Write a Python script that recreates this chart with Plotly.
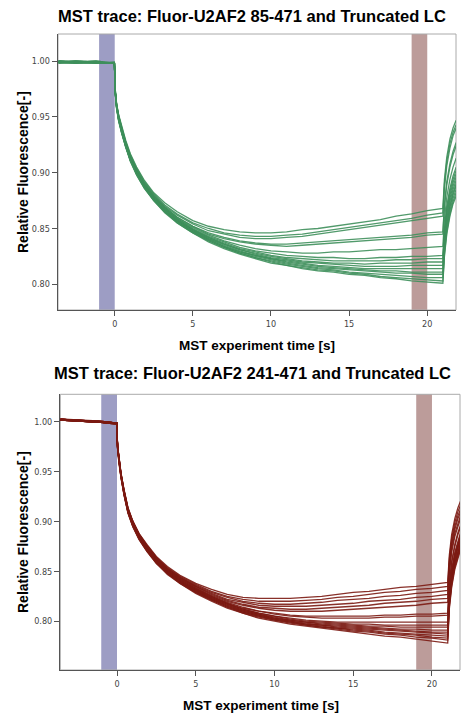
import plotly.graph_objects as go

# ---------------- data ----------------
time_s = [-3.6, -2.5, -1.2, -0.02, 0.04, 0.12, 0.25, 0.45, 0.7, 1.0, 1.4, 1.9, 2.5, 3.2, 4.0,
          5.0, 6.0, 7.0, 8.0, 9.0, 10.0, 11.0, 12.0, 13.0, 14.0, 15.0, 16.0, 17.0, 18.0, 19.0,
          20.0, 21.0, 21.1, 21.25, 21.45, 21.65, 21.85]

# Fluor-U2AF2 85-471 (green), one list per capillary
green_traces = [
    [0.999, 1.000, 0.999, 0.998, 0.974, 0.962, 0.952, 0.941, 0.929, 0.917, 0.905, 0.893, 0.882, 0.873, 0.865, 0.857, 0.852, 0.849, 0.847, 0.846, 0.846, 0.847, 0.849, 0.850, 0.852, 0.854, 0.856, 0.858, 0.861, 0.863, 0.866, 0.868, 0.894, 0.914, 0.930, 0.940, 0.947],
    [1.000, 0.999, 0.999, 0.998, 0.973, 0.961, 0.951, 0.940, 0.928, 0.916, 0.904, 0.892, 0.881, 0.871, 0.863, 0.855, 0.850, 0.846, 0.844, 0.843, 0.843, 0.844, 0.845, 0.847, 0.849, 0.851, 0.853, 0.855, 0.857, 0.859, 0.862, 0.864, 0.890, 0.910, 0.926, 0.936, 0.943],
    [0.999, 0.999, 1.000, 0.998, 0.973, 0.961, 0.951, 0.939, 0.927, 0.915, 0.903, 0.891, 0.880, 0.870, 0.862, 0.854, 0.848, 0.845, 0.842, 0.841, 0.841, 0.842, 0.843, 0.845, 0.847, 0.849, 0.851, 0.853, 0.855, 0.857, 0.859, 0.861, 0.886, 0.906, 0.922, 0.933, 0.940],
    [0.999, 0.998, 0.999, 0.998, 0.972, 0.961, 0.950, 0.939, 0.927, 0.915, 0.902, 0.890, 0.879, 0.869, 0.860, 0.852, 0.846, 0.842, 0.839, 0.837, 0.836, 0.836, 0.837, 0.838, 0.839, 0.840, 0.841, 0.842, 0.843, 0.844, 0.846, 0.847, 0.872, 0.892, 0.908, 0.919, 0.927],
    [1.000, 0.999, 0.998, 0.999, 0.972, 0.960, 0.950, 0.938, 0.926, 0.914, 0.902, 0.890, 0.879, 0.869, 0.860, 0.852, 0.845, 0.841, 0.838, 0.836, 0.835, 0.834, 0.835, 0.836, 0.837, 0.838, 0.839, 0.840, 0.841, 0.842, 0.844, 0.845, 0.869, 0.889, 0.905, 0.916, 0.924],
    [0.999, 1.000, 0.999, 0.998, 0.972, 0.960, 0.950, 0.938, 0.926, 0.914, 0.901, 0.889, 0.878, 0.868, 0.859, 0.851, 0.844, 0.839, 0.835, 0.832, 0.830, 0.829, 0.828, 0.828, 0.829, 0.829, 0.830, 0.831, 0.831, 0.832, 0.833, 0.834, 0.858, 0.878, 0.894, 0.905, 0.913],
    [0.998, 0.999, 0.999, 0.998, 0.972, 0.960, 0.949, 0.938, 0.926, 0.913, 0.901, 0.889, 0.878, 0.868, 0.859, 0.850, 0.843, 0.838, 0.833, 0.830, 0.828, 0.826, 0.825, 0.824, 0.824, 0.823, 0.823, 0.824, 0.824, 0.825, 0.825, 0.826, 0.850, 0.870, 0.886, 0.897, 0.905],
    [0.999, 0.999, 0.998, 0.999, 0.971, 0.960, 0.949, 0.937, 0.925, 0.913, 0.901, 0.889, 0.877, 0.867, 0.858, 0.849, 0.842, 0.837, 0.832, 0.829, 0.826, 0.824, 0.823, 0.822, 0.821, 0.821, 0.821, 0.821, 0.822, 0.822, 0.823, 0.823, 0.847, 0.867, 0.883, 0.894, 0.902],
    [1.000, 0.999, 0.999, 0.998, 0.971, 0.959, 0.949, 0.937, 0.925, 0.913, 0.900, 0.888, 0.877, 0.867, 0.858, 0.849, 0.842, 0.836, 0.831, 0.828, 0.825, 0.823, 0.821, 0.820, 0.819, 0.819, 0.818, 0.819, 0.819, 0.819, 0.820, 0.820, 0.844, 0.864, 0.880, 0.891, 0.899],
    [0.999, 0.998, 0.999, 0.998, 0.971, 0.959, 0.948, 0.937, 0.925, 0.912, 0.900, 0.888, 0.877, 0.867, 0.857, 0.849, 0.841, 0.836, 0.831, 0.827, 0.824, 0.822, 0.820, 0.819, 0.818, 0.817, 0.816, 0.816, 0.816, 0.817, 0.817, 0.817, 0.841, 0.861, 0.877, 0.888, 0.896],
    [0.999, 1.000, 0.999, 0.998, 0.971, 0.959, 0.948, 0.936, 0.924, 0.912, 0.900, 0.888, 0.876, 0.866, 0.857, 0.848, 0.841, 0.835, 0.830, 0.826, 0.823, 0.821, 0.819, 0.817, 0.816, 0.815, 0.814, 0.814, 0.814, 0.814, 0.814, 0.814, 0.838, 0.858, 0.874, 0.885, 0.893],
    [0.998, 0.999, 0.999, 0.998, 0.971, 0.959, 0.948, 0.936, 0.924, 0.912, 0.899, 0.887, 0.876, 0.866, 0.857, 0.848, 0.840, 0.834, 0.829, 0.826, 0.823, 0.820, 0.818, 0.816, 0.815, 0.814, 0.813, 0.812, 0.812, 0.811, 0.811, 0.811, 0.835, 0.855, 0.871, 0.882, 0.890],
    [0.999, 0.999, 1.000, 0.998, 0.970, 0.958, 0.947, 0.936, 0.924, 0.911, 0.899, 0.887, 0.876, 0.865, 0.856, 0.847, 0.840, 0.834, 0.829, 0.825, 0.822, 0.819, 0.817, 0.815, 0.814, 0.813, 0.812, 0.811, 0.810, 0.810, 0.809, 0.809, 0.833, 0.853, 0.869, 0.880, 0.888],
    [0.999, 0.998, 0.999, 0.998, 0.970, 0.958, 0.947, 0.935, 0.923, 0.911, 0.899, 0.887, 0.875, 0.865, 0.856, 0.847, 0.839, 0.833, 0.828, 0.824, 0.821, 0.818, 0.816, 0.814, 0.813, 0.811, 0.810, 0.809, 0.808, 0.807, 0.806, 0.806, 0.830, 0.850, 0.866, 0.877, 0.885],
    [1.000, 0.999, 0.998, 0.998, 0.970, 0.958, 0.947, 0.935, 0.923, 0.911, 0.898, 0.886, 0.875, 0.865, 0.855, 0.846, 0.839, 0.833, 0.828, 0.824, 0.820, 0.817, 0.815, 0.813, 0.812, 0.810, 0.809, 0.807, 0.806, 0.805, 0.804, 0.803, 0.827, 0.847, 0.863, 0.874, 0.882],
    [0.999, 0.999, 0.999, 0.998, 0.970, 0.957, 0.946, 0.935, 0.923, 0.910, 0.898, 0.886, 0.875, 0.864, 0.855, 0.846, 0.838, 0.832, 0.827, 0.823, 0.819, 0.817, 0.814, 0.812, 0.811, 0.809, 0.808, 0.806, 0.805, 0.803, 0.802, 0.801, 0.825, 0.845, 0.861, 0.872, 0.879],
]

# Fluor-U2AF2 241-471 (dark red), one list per capillary
red_traces = [
    [1.002, 1.001, 1.000, 0.999, 0.976, 0.963, 0.949, 0.932, 0.914, 0.901, 0.888, 0.877, 0.865, 0.855, 0.846, 0.838, 0.832, 0.827, 0.824, 0.823, 0.823, 0.823, 0.824, 0.825, 0.827, 0.829, 0.830, 0.832, 0.834, 0.835, 0.837, 0.839, 0.866, 0.887, 0.903, 0.914, 0.922],
    [1.003, 1.001, 1.000, 0.999, 0.976, 0.963, 0.949, 0.931, 0.913, 0.900, 0.888, 0.876, 0.864, 0.854, 0.845, 0.837, 0.830, 0.825, 0.822, 0.820, 0.820, 0.820, 0.821, 0.822, 0.824, 0.825, 0.827, 0.829, 0.830, 0.832, 0.833, 0.835, 0.862, 0.883, 0.899, 0.910, 0.918],
    [1.002, 1.002, 1.000, 0.999, 0.975, 0.963, 0.949, 0.931, 0.913, 0.900, 0.887, 0.876, 0.864, 0.853, 0.844, 0.836, 0.829, 0.824, 0.820, 0.818, 0.817, 0.817, 0.818, 0.819, 0.821, 0.822, 0.823, 0.825, 0.826, 0.828, 0.829, 0.831, 0.858, 0.879, 0.895, 0.906, 0.914],
    [1.002, 1.001, 1.001, 0.999, 0.975, 0.962, 0.948, 0.931, 0.913, 0.900, 0.887, 0.875, 0.863, 0.853, 0.844, 0.835, 0.828, 0.822, 0.819, 0.816, 0.815, 0.815, 0.815, 0.816, 0.817, 0.818, 0.820, 0.821, 0.822, 0.824, 0.825, 0.827, 0.855, 0.876, 0.892, 0.903, 0.911],
    [1.003, 1.001, 1.000, 0.998, 0.975, 0.962, 0.948, 0.930, 0.912, 0.899, 0.887, 0.875, 0.863, 0.852, 0.843, 0.835, 0.827, 0.821, 0.817, 0.814, 0.813, 0.812, 0.812, 0.813, 0.814, 0.815, 0.816, 0.818, 0.819, 0.820, 0.822, 0.823, 0.851, 0.872, 0.888, 0.899, 0.908],
    [1.002, 1.001, 1.000, 0.999, 0.975, 0.962, 0.948, 0.930, 0.912, 0.899, 0.886, 0.874, 0.862, 0.852, 0.843, 0.834, 0.826, 0.820, 0.816, 0.813, 0.811, 0.810, 0.810, 0.810, 0.811, 0.812, 0.813, 0.814, 0.815, 0.816, 0.818, 0.819, 0.848, 0.869, 0.885, 0.896, 0.905],
    [1.002, 1.002, 1.000, 0.999, 0.975, 0.962, 0.947, 0.930, 0.912, 0.898, 0.886, 0.874, 0.862, 0.851, 0.842, 0.833, 0.825, 0.819, 0.814, 0.810, 0.808, 0.806, 0.805, 0.805, 0.805, 0.805, 0.805, 0.806, 0.806, 0.807, 0.807, 0.808, 0.838, 0.860, 0.877, 0.889, 0.898],
    [1.003, 1.001, 1.000, 0.998, 0.974, 0.961, 0.947, 0.929, 0.911, 0.898, 0.885, 0.873, 0.861, 0.851, 0.842, 0.833, 0.825, 0.818, 0.813, 0.810, 0.807, 0.805, 0.804, 0.803, 0.803, 0.803, 0.803, 0.804, 0.804, 0.805, 0.805, 0.806, 0.836, 0.858, 0.875, 0.887, 0.896],
    [1.002, 1.001, 1.001, 0.999, 0.974, 0.961, 0.947, 0.929, 0.911, 0.898, 0.885, 0.873, 0.861, 0.850, 0.841, 0.832, 0.824, 0.818, 0.812, 0.808, 0.805, 0.803, 0.801, 0.800, 0.799, 0.799, 0.799, 0.799, 0.799, 0.799, 0.799, 0.799, 0.830, 0.852, 0.869, 0.881, 0.891],
    [1.002, 1.001, 1.000, 0.999, 0.974, 0.961, 0.947, 0.929, 0.911, 0.898, 0.885, 0.873, 0.861, 0.850, 0.841, 0.832, 0.824, 0.817, 0.812, 0.808, 0.805, 0.802, 0.800, 0.799, 0.798, 0.797, 0.797, 0.796, 0.796, 0.796, 0.796, 0.796, 0.827, 0.849, 0.867, 0.879, 0.889],
    [1.003, 1.002, 1.000, 0.999, 0.974, 0.961, 0.946, 0.929, 0.911, 0.897, 0.884, 0.872, 0.861, 0.850, 0.840, 0.831, 0.823, 0.817, 0.811, 0.807, 0.804, 0.801, 0.799, 0.798, 0.797, 0.796, 0.795, 0.795, 0.794, 0.794, 0.794, 0.794, 0.825, 0.847, 0.865, 0.877, 0.887],
    [1.002, 1.001, 1.000, 0.998, 0.974, 0.961, 0.946, 0.928, 0.910, 0.897, 0.884, 0.872, 0.860, 0.850, 0.840, 0.831, 0.823, 0.816, 0.811, 0.807, 0.803, 0.801, 0.799, 0.797, 0.796, 0.795, 0.794, 0.793, 0.792, 0.792, 0.791, 0.791, 0.823, 0.845, 0.863, 0.875, 0.885],
    [1.002, 1.002, 1.001, 0.999, 0.974, 0.960, 0.946, 0.928, 0.910, 0.897, 0.884, 0.872, 0.860, 0.849, 0.840, 0.831, 0.822, 0.816, 0.810, 0.806, 0.803, 0.800, 0.798, 0.796, 0.795, 0.794, 0.793, 0.792, 0.791, 0.790, 0.789, 0.789, 0.821, 0.843, 0.861, 0.873, 0.883],
    [1.003, 1.001, 1.000, 0.999, 0.973, 0.960, 0.946, 0.928, 0.910, 0.896, 0.883, 0.871, 0.860, 0.849, 0.839, 0.830, 0.822, 0.815, 0.810, 0.806, 0.802, 0.800, 0.797, 0.796, 0.794, 0.793, 0.792, 0.791, 0.790, 0.789, 0.788, 0.787, 0.819, 0.841, 0.859, 0.871, 0.881],
    [1.002, 1.001, 1.000, 0.999, 0.973, 0.960, 0.945, 0.927, 0.909, 0.896, 0.883, 0.871, 0.859, 0.849, 0.839, 0.830, 0.822, 0.815, 0.809, 0.805, 0.802, 0.799, 0.797, 0.795, 0.793, 0.792, 0.791, 0.789, 0.788, 0.787, 0.786, 0.785, 0.818, 0.840, 0.858, 0.870, 0.880],
    [1.002, 1.002, 1.000, 0.998, 0.973, 0.960, 0.945, 0.927, 0.909, 0.896, 0.883, 0.871, 0.859, 0.848, 0.839, 0.829, 0.821, 0.814, 0.809, 0.805, 0.801, 0.799, 0.796, 0.794, 0.793, 0.791, 0.790, 0.788, 0.787, 0.786, 0.784, 0.783, 0.816, 0.838, 0.856, 0.868, 0.878],
    [1.003, 1.001, 1.001, 0.999, 0.973, 0.959, 0.945, 0.927, 0.909, 0.895, 0.882, 0.870, 0.858, 0.848, 0.838, 0.829, 0.821, 0.814, 0.808, 0.804, 0.801, 0.798, 0.796, 0.794, 0.792, 0.790, 0.789, 0.787, 0.786, 0.784, 0.783, 0.781, 0.814, 0.836, 0.854, 0.866, 0.876],
    [1.002, 1.001, 1.000, 0.999, 0.973, 0.959, 0.944, 0.926, 0.908, 0.895, 0.882, 0.870, 0.858, 0.847, 0.838, 0.828, 0.820, 0.813, 0.808, 0.803, 0.800, 0.797, 0.795, 0.793, 0.791, 0.789, 0.787, 0.785, 0.784, 0.782, 0.780, 0.778, 0.812, 0.834, 0.852, 0.864, 0.874],
]

y_tick_values = [0.80, 0.85, 0.90, 0.95, 1.00]
x_tick_values = [0, 5, 10, 15, 20]
cold_window = [-1.0, 0.0]   # blue band
hot_window = [19.0, 20.0]   # red band
chart_titles = ["MST trace: Fluor-U2AF2 85-471 and Truncated LC",
                "MST trace: Fluor-U2AF2 241-471 and Truncated LC"]
x_title = "MST experiment time [s]"
y_title = "Relative Fluorescence[-]"

# ---------------- figure ----------------
W, H = 467, 718
GREEN = "#3e8f5b"
DARKRED = "#7b1a12"

fig = go.Figure()
for tr in green_traces:
    fig.add_trace(go.Scatter(x=time_s, y=tr, mode="lines", xaxis="x", yaxis="y",
                             line=dict(color=GREEN, width=1.3), opacity=0.9,
                             showlegend=False, hoverinfo="skip"))
for tr in red_traces:
    fig.add_trace(go.Scatter(x=time_s, y=tr, mode="lines", xaxis="x2", yaxis="y2",
                             line=dict(color=DARKRED, width=1.3), opacity=0.9,
                             showlegend=False, hoverinfo="skip"))

tick_font = dict(family="DejaVu Sans Condensed, Liberation Sans Narrow, Arial", size=9, color="#444")
ax = dict(showgrid=False, zeroline=False, showline=True, linecolor="#555", linewidth=1.3,
          mirror=False, ticks="outside", ticklen=5, tickwidth=1, tickcolor="#555",
          tickfont=tick_font)

title_font = dict(family="Liberation Sans, Arial", size=16.5, color="black")
label_font_x = dict(family="Liberation Sans, Arial", size=13.5, color="black")
label_font_y = dict(family="Liberation Sans, Arial", size=14, color="black")

fig.update_layout(
    width=W, height=H, margin=dict(l=0, r=0, t=0, b=0),
    paper_bgcolor="white", plot_bgcolor="white",
    title=dict(text="<b>%s</b>" % chart_titles[1], font=title_font,
               xref="container", yref="container", x=252.5 / W, xanchor="center",
               y=1 - 373 / H, yanchor="middle"),
    xaxis=dict(domain=[58 / W, 456 / W], range=[-3.63, 21.84], anchor="y",
               tickvals=x_tick_values, **ax),
    yaxis=dict(domain=[1 - 310 / H, 1 - 34 / H], range=[0.777, 1.0242], anchor="x",
               tickvals=y_tick_values, tickformat=".2f", **ax),
    xaxis2=dict(domain=[60.3 / W, 460 / W], range=[-3.6, 21.78], anchor="y2",
                tickvals=x_tick_values, **ax),
    yaxis2=dict(domain=[1 - 670 / H, 1 - 394.3 / H], range=[0.751, 1.0278], anchor="x2",
                tickvals=y_tick_values, tickformat=".2f", **ax),
)

shapes = []
for xr, yr in (("x", "y"), ("x2", "y2")):
    shapes.append(dict(type="rect", xref=xr, yref=yr + " domain", x0=cold_window[0], x1=cold_window[1],
                       y0=0, y1=1, fillcolor="#9d9dc4", line=dict(width=0), layer="below"))
    shapes.append(dict(type="rect", xref=xr, yref=yr + " domain", x0=hot_window[0], x1=hot_window[1],
                       y0=0, y1=1, fillcolor="#bc9c9a", line=dict(width=0), layer="below"))
    shapes.append(dict(type="rect", xref=xr + " domain", yref=yr + " domain", x0=0, x1=1, y0=0, y1=1,
                       line=dict(color="#aaaaaa", width=1), fillcolor="rgba(0,0,0,0)", layer="below"))
fig.update_layout(shapes=shapes)

ann = [
    dict(text="<b>%s</b>" % chart_titles[0], x=252 / W, y=1 - 16 / H, font=title_font),
    dict(text="<b>%s</b>" % x_title, x=257 / W, y=1 - 345 / H, font=label_font_x),
    dict(text="<b>%s</b>" % x_title, x=261 / W, y=1 - 705 / H, font=label_font_x),
    dict(text="<b>%s</b>" % y_title, x=23 / W, y=1 - 172 / H, font=label_font_y, textangle=-90),
    dict(text="<b>%s</b>" % y_title, x=23 / W, y=1 - 532 / H, font=label_font_y, textangle=-90),
]
for a in ann:
    a.update(xref="paper", yref="paper", showarrow=False, xanchor="center", yanchor="middle")
fig.update_layout(annotations=ann)

fig.write_html("out.html", config={"staticPlot": True},
               post_script="document.body.style.margin='0px';document.body.style.padding='0px';")
